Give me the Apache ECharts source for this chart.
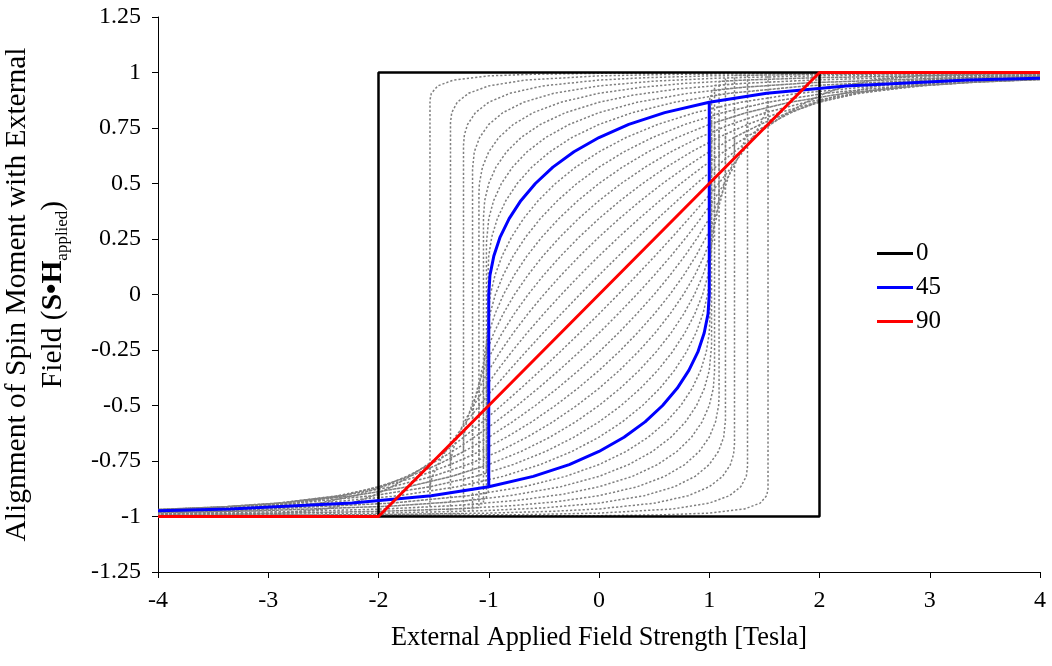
<!DOCTYPE html>
<html>
<head>
<meta charset="utf-8">
<script src="https://cdn.jsdelivr.net/npm/echarts@6/dist/echarts.min.js"></script>
<style>
html,body{margin:0;padding:0;background:#fff;}
#chart{width:1052px;height:666px;}
</style>
</head>
<body>
<div id="chart"></div>
<script>
// Descending (upper) branch of each loop: [field (T), alignment]; ascending branch is its point mirror.
const sw05 = [[4,0.9996],[2,0.999],[0,0.9962],[-0.572,0.9925],[-1,0.9848],[-1.321,0.9659],[-1.462,0.9397],[-1.521,0.9063],[-1.533,0.8752],[-1.533,-0.9988],[-4,-0.9996]];
const sw10 = [[4,0.9983],[1.992,0.9962],[0.668,0.9914],[0,0.9848],[-0.671,0.9659],[-1,0.9397],[-1.183,0.9063],[-1.286,0.866],[-1.336,0.8192],[-1.347,0.7741],[-1.347,-0.9946],[-1.992,-0.9962],[-4,-0.9983]];
const sw15 = [[4,0.9963],[1.983,0.9914],[1,0.9848],[0.403,0.9763],[0,0.9659],[-0.508,0.9397],[-0.809,0.9063],[-1,0.866],[-1.121,0.8192],[-1.192,0.766],[-1.221,0.7193],[-1.229,0.6716],[-1.229,-0.9869],[-1.983,-0.9914],[-4,-0.9963]];
const sw20 = [[4,0.9936],[2.923,0.9903],[1.97,0.9848],[1.075,0.9744],[0.505,0.9613],[0,0.9397],[-0.411,0.9063],[-0.684,0.866],[-0.872,0.8192],[-1,0.766],[-1.083,0.7071],[-1.131,0.6428],[-1.147,0.5661],[-1.147,-0.9755],[-1.97,-0.9848],[-2.923,-0.9903],[-4,-0.9936]];
const sw25 = [[4,0.9902],[2.879,0.9848],[1.953,0.9763],[1.321,0.9659],[0.783,0.9511],[0.388,0.9336],[0,0.9063],[-0.347,0.866],[-0.596,0.8192],[-0.778,0.766],[-0.909,0.7071],[-1,0.6428],[-1.057,0.5736],[-1.085,0.5],[-1.089,0.4573],[-1.089,-0.9605],[-1.321,-0.9659],[-1.953,-0.9763],[-2.879,-0.9848],[-4,-0.9902]];
const sw30 = [[4,0.9864],[2.827,0.9782],[1.932,0.9659],[1.316,0.9511],[0.736,0.9272],[0.317,0.8988],[0,0.866],[-0.303,0.8192],[-0.532,0.766],[-0.707,0.7071],[-0.839,0.6428],[-0.935,0.5736],[-1,0.5],[-1.037,0.4226],[-1.048,0.3455],[-1.048,-0.9418],[-1.316,-0.9511],[-1.932,-0.9659],[-2.827,-0.9782],[-4,-0.9864]];
const sw35 = [[4,0.9824],[3.088,0.9744],[1.907,0.9537],[1.31,0.9336],[0.809,0.9063],[0.347,0.866],[0,0.8192],[-0.27,0.766],[-0.484,0.7071],[-0.653,0.6428],[-0.785,0.5736],[-0.885,0.5],[-0.956,0.4226],[-1,0.342],[-1.021,0.2316],[-1.021,-0.9198],[-1.31,-0.9336],[-1.907,-0.9537],[-3.088,-0.9744],[-4,-0.9824]];
const sw40 = [[4,0.9783],[2.96,0.9659],[1.879,0.9397],[1.183,0.9063],[0.684,0.866],[0.303,0.8192],[0,0.766],[-0.246,0.7071],[-0.446,0.6428],[-0.61,0.5736],[-0.742,0.5],[-0.845,0.4226],[-0.922,0.342],[-0.973,0.2588],[-1,0.1737],[-1.005,0.1162],[-1.005,-0.8942],[-1.183,-0.9063],[-1.879,-0.9397],[-2.96,-0.9659],[-4,-0.9783]];
const sw45 = [[4,0.9744],[3.346,0.9659],[2.24,0.9397],[1.521,0.9063],[1,0.866],[0.596,0.8192],[0.27,0.766],[0,0.7071],[-0.227,0.6428],[-0.418,0.5736],[-0.577,0.5],[-0.709,0.4226],[-0.815,0.342],[-0.897,0.2588],[-0.954,0.1737],[-0.989,0.0872],[-1,0],[-1,-0.866],[-1.521,-0.9063],[-2.24,-0.9397],[-3.346,-0.9659],[-4,-0.9744]];
const sw50 = [[4,0.9712],[3.364,0.9613],[2.532,0.9397],[1.813,0.9063],[1.286,0.866],[0.872,0.8192],[0.532,0.766],[0.246,0.7071],[0,0.6428],[-0.212,0.5736],[-0.395,0.5],[-0.552,0.4226],[-0.684,0.342],[-0.793,0.2588],[-0.879,0.1737],[-0.943,0.0872],[-0.985,0],[-1.002,-0.0698],[-1.005,-0.1162],[-1.005,-0.8363],[-1.286,-0.866],[-1.813,-0.9063],[-2.532,-0.9397],[-3.364,-0.9613],[-4,-0.9712]];
const sw55 = [[4,0.9689],[3.319,0.9563],[2.747,0.9397],[2.049,0.9063],[1.532,0.866],[1.121,0.8192],[0.778,0.766],[0.484,0.7071],[0.227,0.6428],[0,0.5736],[-0.201,0.5],[-0.377,0.4226],[-0.532,0.342],[-0.665,0.2588],[-0.778,0.1737],[-0.869,0.0872],[-0.94,0],[-0.989,-0.0872],[-1.015,-0.1737],[-1.021,-0.2316],[-1.021,-0.8049],[-1.121,-0.8192],[-1.532,-0.866],[-2.049,-0.9063],[-2.747,-0.9397],[-3.319,-0.9563],[-4,-0.9689]];
const sw60 = [[4,0.9683],[3.412,0.9563],[2.879,0.9397],[2.223,0.9063],[1.732,0.866],[1.336,0.8192],[1,0.766],[0.707,0.7071],[0.446,0.6428],[0.212,0.5736],[0,0.5],[-0.192,0.4226],[-0.364,0.342],[-0.518,0.2588],[-0.653,0.1737],[-0.769,0.0872],[-0.866,0],[-0.943,-0.0872],[-1,-0.1737],[-1.035,-0.2588],[-1.048,-0.3455],[-1.048,-0.7738],[-1.336,-0.8192],[-1.732,-0.866],[-2.223,-0.9063],[-2.879,-0.9397],[-3.412,-0.9563],[-4,-0.9683]];
const sw65 = [[4,0.9695],[3.402,0.9563],[2.924,0.9397],[2.33,0.9063],[1.879,0.866],[1.51,0.8192],[1.192,0.766],[0.909,0.7071],[0.653,0.6428],[0.418,0.5736],[0.201,0.5],[0,0.4226],[-0.185,0.342],[-0.354,0.2588],[-0.508,0.1737],[-0.645,0.0872],[-0.766,0],[-0.869,-0.0872],[-0.954,-0.1737],[-1.02,-0.2588],[-1.064,-0.342],[-1.084,-0.4067],[-1.089,-0.4573],[-1.089,-0.7455],[-1.192,-0.766],[-1.51,-0.8192],[-1.879,-0.866],[-2.33,-0.9063],[-2.924,-0.9397],[-3.402,-0.9563],[-4,-0.9695]];
const sw70 = [[4,0.9733],[3.631,0.9659],[2.879,0.9397],[2.366,0.9063],[1.97,0.866],[1.638,0.8192],[1.347,0.766],[1.083,0.7071],[0.839,0.6428],[0.61,0.5736],[0.395,0.5],[0.192,0.4226],[0,0.342],[-0.18,0.2588],[-0.347,0.1737],[-0.502,0.0872],[-0.643,0],[-0.769,-0.0872],[-0.879,-0.1737],[-0.973,-0.2588],[-1.048,-0.342],[-1.103,-0.4226],[-1.137,-0.5],[-1.147,-0.5661],[-1.147,-0.7224],[-1.347,-0.766],[-1.638,-0.8192],[-1.97,-0.866],[-2.366,-0.9063],[-2.879,-0.9397],[-3.631,-0.9659],[-4,-0.9733]];
const sw75 = [[4,0.9799],[3.346,0.9659],[2.747,0.9397],[2.33,0.9063],[2,0.866],[1.717,0.8192],[1.462,0.766],[1.225,0.7071],[1,0.6428],[0.785,0.5736],[0.577,0.5],[0.377,0.4226],[0.185,0.342],[0,0.2588],[-0.176,0.1737],[-0.343,0.0872],[-0.5,0],[-0.645,-0.0872],[-0.778,-0.1737],[-0.897,-0.2588],[-1,-0.342],[-1.087,-0.4226],[-1.155,-0.5],[-1.202,-0.5736],[-1.227,-0.6428],[-1.229,-0.6716],[-1.229,-0.7083],[-1.462,-0.766],[-1.717,-0.8192],[-2,-0.866],[-2.33,-0.9063],[-2.747,-0.9397],[-3.346,-0.9659],[-4,-0.9799]];
const sw80 = [[4,0.9883],[3.702,0.9848],[2.96,0.9659],[2.532,0.9397],[2.223,0.9063],[1.97,0.866],[1.743,0.8192],[1.532,0.766],[1.329,0.7071],[1.131,0.6428],[0.935,0.5736],[0.742,0.5],[0.552,0.4226],[0.364,0.342],[0.18,0.2588],[0,0.1737],[-0.174,0.0872],[-0.342,0],[-0.502,-0.0872],[-0.653,-0.1737],[-0.793,-0.2588],[-0.922,-0.342],[-1.037,-0.4226],[-1.137,-0.5],[-1.221,-0.5736],[-1.286,-0.6428],[-1.329,-0.7071],[-1.348,-0.7741],[-1.348,-0.7129],[-1.532,-0.766],[-1.743,-0.8192],[-1.97,-0.866],[-2.223,-0.9063],[-2.532,-0.9397],[-2.96,-0.9659],[-3.702,-0.9848],[-4,-0.9883]];
const sw85 = [[4,0.9964],[3.584,0.9945],[2.879,0.9848],[2.484,0.9659],[2.24,0.9397],[2.049,0.9063],[1.879,0.866],[1.717,0.8192],[1.556,0.766],[1.393,0.7071],[1.227,0.6428],[1.057,0.5736],[0.885,0.5],[0.709,0.4226],[0.532,0.342],[0.354,0.2588],[0.176,0.1737],[0,0.0872],[-0.174,0],[-0.343,-0.0872],[-0.508,-0.1737],[-0.665,-0.2588],[-0.815,-0.342],[-0.956,-0.4226],[-1.085,-0.5],[-1.202,-0.5736],[-1.305,-0.6428],[-1.393,-0.7071],[-1.462,-0.766],[-1.51,-0.8192],[-1.527,-0.848],[-1.533,-0.8752],[-1.533,-0.7581],[-1.556,-0.766],[-1.717,-0.8192],[-1.879,-0.866],[-2.049,-0.9063],[-2.24,-0.9397],[-2.484,-0.9659],[-2.879,-0.9848],[-3.584,-0.9945],[-4,-0.9964]];
const sw00 = [[4,1],[-2,1],[-2,-1],[-4,-1]];
const sw90 = [[-4,-1],[-2,-1],[2,1],[4,1]];

const grayAngles = ['5','10','15','20','25','30','35','40','50','55','60','65','70','75','80','85'];
const grayBranches = [sw05,sw10,sw15,sw20,sw25,sw30,sw35,sw40,sw50,sw55,sw60,sw65,sw70,sw75,sw80,sw85];
const legendNames = ['0','45','90'];
const xTicks = {min:-4, max:4, step:1};
const yTicks = {min:-1.25, max:1.25, step:0.25};

function fullLoop(desc){
  // ascending sweep = point reflection of the descending sweep
  return desc.concat(desc.slice(1).map(p => [-p[0], -p[1]]));
}

const FONT = 'Liberation Serif';
const series = [];
grayBranches.forEach((b, i) => {
  series.push({
    type:'line', name:'g'+grayAngles[i], data: fullLoop(b), symbol:'none', silent:true, z:2,
    lineStyle:{color:'#7f7f7f', width:1.5, type:[2.2,2]}, animation:false
  });
});
series.push({type:'line', name:legendNames[0], data: fullLoop(sw00), symbol:'none', z:3, color:'#000000',
  lineStyle:{color:'#000000', width:2.5}, animation:false});
series.push({type:'line', name:legendNames[1], data: fullLoop(sw45), symbol:'none', z:4, color:'#0000ff',
  lineStyle:{color:'#0000ff', width:3}, animation:false});
series.push({type:'line', name:legendNames[2], data: sw90, symbol:'none', z:5, color:'#ff0000',
  lineStyle:{color:'#ff0000', width:3}, animation:false});

const chart = echarts.init(document.getElementById('chart'), null, {renderer:'canvas'});
chart.setOption({
  backgroundColor:'#ffffff',
  animation:false,
  grid:{left:158, right:12, top:17, bottom:94, containLabel:false, outerBoundsMode:'none'},
  legend:{
    data: legendNames, orient:'vertical', left:877, top:241, padding:0, icon:'rect',
    itemWidth:36, itemHeight:3, itemGap:9,
    textStyle:{fontFamily:FONT, fontSize:25, color:'#000', lineHeight:24, padding:[0,0,0,-2]}
  },
  xAxis:{
    type:'value', min:xTicks.min, max:xTicks.max, interval:xTicks.step,
    name:'External Applied Field Strength [Tesla]', nameLocation:'middle', nameGap:53,
    nameTextStyle:{fontFamily:FONT, fontSize:26.3, color:'#000'},
    axisLine:{onZero:false, lineStyle:{color:'#000', width:1}},
    axisTick:{show:true, inside:false, length:6, lineStyle:{color:'#000'}},
    axisLabel:{fontFamily:FONT, fontSize:24, color:'#000', margin:17},
    splitLine:{show:false}
  },
  yAxis:{
    type:'value', min:yTicks.min, max:yTicks.max, interval:yTicks.step,
    name:'Alignment of Spin Moment with External\nField ({b|S•H}{sub|applied})',
    nameLocation:'middle', nameGap:87, nameRotate:90,
    nameTextStyle:{fontFamily:FONT, fontSize:29.5, color:'#000', lineHeight:36,
      rich:{
        b:{fontFamily:FONT, fontSize:29.5, fontWeight:'bold', color:'#000', lineHeight:36},
        sub:{fontFamily:FONT, fontSize:17, color:'#000', verticalAlign:'bottom', lineHeight:19}
      }},
    axisLine:{show:true, onZero:false, lineStyle:{color:'#000', width:1}},
    axisTick:{show:true, inside:false, length:6, lineStyle:{color:'#000'}},
    axisLabel:{fontFamily:FONT, fontSize:24, color:'#000', margin:17},
    splitLine:{show:false}
  },
  series: series
});
</script>
</body>
</html>
